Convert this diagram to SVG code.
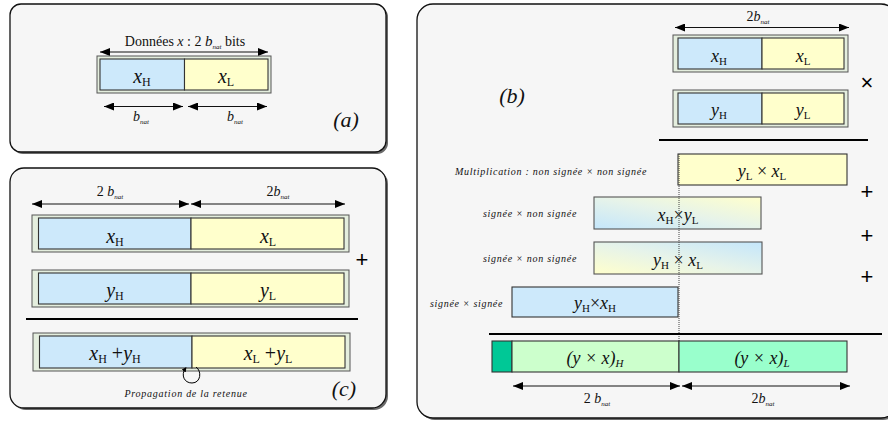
<svg xmlns="http://www.w3.org/2000/svg" width="888" height="421" viewBox="0 0 888 421" font-family="'Liberation Serif', serif">
  <style>
    .panel { fill: #f6f6f6; stroke: #111; stroke-width: 1.3; }
    .shadow { fill: #6a6a6a; }
    .frame { fill: #e4eede; stroke: #555; stroke-width: 1; }
    .hi { fill: #cde9fb; stroke: #333; stroke-width: 1.1; }
    .lo { fill: #ffffcc; stroke: #333; stroke-width: 1.1; }
    .arrow { stroke: #111; stroke-width: 1; fill: none; marker-start: url(#head); marker-end: url(#head); }
    .rule { stroke: #000; stroke-width: 2.2; }
    text { font-family: "Liberation Serif", serif; fill: #111; }
    .var { font-size: 20px; text-anchor: middle; }
    .small-var { font-size: 18px; text-anchor: middle; }
    .it { font-style: italic; }
    .note { font-size: 10px; font-style: italic; letter-spacing: 0.6px; }
    .tag { font-size: 22px; font-style: italic; text-anchor: middle; }
    .dim { font-size: 14px; text-anchor: middle; }
    text.op { font-family: "Liberation Sans", sans-serif; font-size: 22px; text-anchor: middle; fill: #000; }
  </style>
  <defs>
    <marker id="head" viewBox="0 0 10 8" refX="10" refY="4" markerWidth="10" markerHeight="8" markerUnits="userSpaceOnUse" orient="auto-start-reverse">
      <path d="M0,0 L10,4 L0,8 Z" fill="#000"/>
    </marker>
    <marker id="curl" viewBox="0 0 6 6" refX="3" refY="3" markerWidth="5" markerHeight="5" markerUnits="userSpaceOnUse" orient="auto">
      <path d="M0,0 L6,3 L0,6 Z" fill="#000"/>
    </marker>
    <linearGradient id="blueToYellow" x1="0" y1="1" x2="1" y2="0">
      <stop offset="0" stop-color="#c4e6fb"/>
      <stop offset="0.5" stop-color="#e6f3ea"/>
      <stop offset="1" stop-color="#ffffcc"/>
    </linearGradient>
    <linearGradient id="yellowToBlue" x1="0" y1="1" x2="1" y2="0">
      <stop offset="0" stop-color="#ffffcc"/>
      <stop offset="0.5" stop-color="#e6f3ea"/>
      <stop offset="1" stop-color="#c4e6fb"/>
    </linearGradient>
  </defs>

  <!-- Panel (a): split of a 2*b_nat word -->
  <g id="panel-a">
    <rect class="shadow" x="12" y="6" width="376" height="148" rx="11"/>
    <rect class="panel" x="10" y="4" width="376" height="148" rx="11"/>
    <text x="185" y="46" font-size="14" text-anchor="middle">Données <tspan class="it">x</tspan> : 2 <tspan class="it" font-size="15">b</tspan><tspan class="it" font-size="7" dy="3">nat</tspan><tspan dy="-3"> bits</tspan></text>
    <line class="arrow" x1="100" y1="52" x2="268" y2="52"/>
    <rect class="frame" x="97" y="56" width="174" height="37"/>
    <rect class="hi" x="100" y="59" width="84.5" height="31"/>
    <rect class="lo" x="184.5" y="59" width="83.5" height="31"/>
    <text class="var" x="142" y="83"><tspan class="it">x</tspan><tspan font-size="12" dy="3">H</tspan></text>
    <text class="var" x="226" y="83"><tspan class="it">x</tspan><tspan font-size="12" dy="3">L</tspan></text>
    <line class="arrow" x1="104" y1="106.5" x2="183" y2="106.5"/>
    <line class="arrow" x1="188" y1="106.5" x2="267" y2="106.5"/>
    <text class="dim" x="141" y="121" font-size="15"><tspan class="it">b</tspan><tspan class="it" font-size="7" dy="3">nat</tspan></text>
    <text class="dim" x="235" y="121" font-size="15"><tspan class="it">b</tspan><tspan class="it" font-size="7" dy="3">nat</tspan></text>
    <text class="tag" x="346" y="127">(a)</text>
  </g>

  <!-- Panel (c): addition with carry propagation -->
  <g id="panel-c">
    <rect class="shadow" x="12" y="170" width="376" height="240" rx="14"/>
    <rect class="panel" x="10" y="168" width="376" height="240" rx="14"/>
    <text class="dim" x="110" y="196">2 <tspan class="it">b</tspan><tspan class="it" font-size="7" dy="3">nat</tspan></text>
    <text class="dim" x="278" y="196">2<tspan class="it">b</tspan><tspan class="it" font-size="7" dy="3">nat</tspan></text>
    <line class="arrow" x1="32" y1="204" x2="189" y2="204"/>
    <line class="arrow" x1="191" y1="204" x2="345" y2="204"/>

    <g id="c-row-x">
      <rect class="frame" x="32" y="215" width="317" height="37"/>
      <rect class="hi" x="38.5" y="218" width="152.5" height="31"/>
      <rect class="lo" x="191" y="218" width="153" height="31"/>
      <text class="var" x="115" y="243"><tspan class="it">x</tspan><tspan font-size="12" dy="3">H</tspan></text>
      <text class="var" x="268" y="243"><tspan class="it">x</tspan><tspan font-size="12" dy="3">L</tspan></text>
    </g>
    <text class="op" x="362" y="267">+</text>
    <g id="c-row-y">
      <rect class="frame" x="32" y="270" width="317" height="37"/>
      <rect class="hi" x="38.5" y="273" width="152.5" height="31"/>
      <rect class="lo" x="191" y="273" width="153" height="31"/>
      <text class="var" x="115" y="297"><tspan class="it">y</tspan><tspan font-size="12" dy="3">H</tspan></text>
      <text class="var" x="268" y="297"><tspan class="it">y</tspan><tspan font-size="12" dy="3">L</tspan></text>
    </g>
    <line class="rule" x1="26" y1="319" x2="358" y2="319"/>
    <g id="c-row-sum">
      <rect class="frame" x="33" y="333" width="317" height="38"/>
      <rect class="hi" x="39.5" y="336" width="152.5" height="32"/>
      <rect class="lo" x="192" y="336" width="153" height="32"/>
      <text class="var" x="115" y="360"><tspan class="it">x</tspan><tspan font-size="12" dy="3">H</tspan><tspan dy="-3"> +</tspan><tspan class="it">y</tspan><tspan font-size="12" dy="3">H</tspan></text>
      <text class="var" x="268" y="360"><tspan class="it">x</tspan><tspan font-size="12" dy="3">L</tspan><tspan dy="-3"> +</tspan><tspan class="it">y</tspan><tspan font-size="12" dy="3">L</tspan></text>
    </g>
    <path d="M196,367 C202,371 201,383 192,383 C184,383 181,375 185,369" fill="none" stroke="#000" stroke-width="1" marker-end="url(#curl)"/>
    <text class="note" x="186" y="397" text-anchor="middle" textLength="123">Propagation de la retenue</text>
    <text class="tag" x="344" y="396">(c)</text>
  </g>

  <!-- Panel (b): decomposed multiplication -->
  <g id="panel-b">
    <rect class="shadow" x="419" y="6" width="480" height="414" rx="16"/>
    <rect class="panel" x="417" y="4" width="480" height="414" rx="16"/>
    <text class="tag" x="512" y="103">(b)</text>
    <text class="dim" x="758" y="21" font-size="13">2<tspan class="it">b</tspan><tspan class="it" font-size="7" dy="3">nat</tspan></text>
    <line class="arrow" x1="675" y1="27.5" x2="849" y2="27.5"/>

    <g id="b-row-x">
      <rect class="frame" x="673" y="35" width="175" height="37"/>
      <rect class="hi" x="678" y="38" width="84" height="31"/>
      <rect class="lo" x="762" y="38" width="82" height="31"/>
      <text class="small-var" x="719" y="62"><tspan class="it">x</tspan><tspan font-size="11" dy="3">H</tspan></text>
      <text class="small-var" x="803" y="62"><tspan class="it">x</tspan><tspan font-size="11" dy="3">L</tspan></text>
    </g>
    <text class="op" x="867" y="90">×</text>
    <g id="b-row-y">
      <rect class="frame" x="673" y="90" width="175" height="37"/>
      <rect class="hi" x="678" y="93" width="84" height="31"/>
      <rect class="lo" x="762" y="93" width="82" height="31"/>
      <text class="small-var" x="719" y="116"><tspan class="it">y</tspan><tspan font-size="11" dy="3">H</tspan></text>
      <text class="small-var" x="803" y="116"><tspan class="it">y</tspan><tspan font-size="11" dy="3">L</tspan></text>
    </g>
    <line class="rule" x1="659" y1="140" x2="868" y2="140" stroke-width="3"/>

    <!-- partial products -->
    <g id="pp-ll">
      <text class="note" x="647" y="175" text-anchor="end" textLength="192">Multiplication : non signée × non signée</text>
      <rect class="lo" x="678" y="154" width="169" height="31"/>
      <text class="small-var" x="762" y="177"><tspan class="it">y</tspan><tspan font-size="11" dy="3">L</tspan><tspan dy="-3"> × </tspan><tspan class="it">x</tspan><tspan font-size="11" dy="3">L</tspan></text>
    </g>
    <text class="op" x="867" y="199">+</text>
    <g id="pp-hl">
      <text class="note" x="577" y="217" text-anchor="end" textLength="94">signée × non signée</text>
      <rect x="594" y="197" width="167" height="32" fill="url(#blueToYellow)" stroke="#555" stroke-width="1.1"/>
      <text class="small-var" x="678" y="221"><tspan class="it">x</tspan><tspan font-size="11" dy="3">H</tspan><tspan dy="-3">×</tspan><tspan class="it">y</tspan><tspan font-size="11" dy="3">L</tspan></text>
    </g>
    <text class="op" x="867" y="243">+</text>
    <g id="pp-lh">
      <text class="note" x="577" y="262" text-anchor="end" textLength="94">signée × non signée</text>
      <rect x="594" y="242" width="168" height="32" fill="url(#yellowToBlue)" stroke="#555" stroke-width="1.1"/>
      <text class="small-var" x="678" y="266"><tspan class="it">y</tspan><tspan font-size="11" dy="3">H</tspan><tspan dy="-3"> × </tspan><tspan class="it">x</tspan><tspan font-size="11" dy="3">L</tspan></text>
    </g>
    <text class="op" x="867" y="284">+</text>
    <g id="pp-hh">
      <text class="note" x="503" y="307" text-anchor="end" textLength="73">signée × signée</text>
      <rect class="hi" x="512" y="287" width="166" height="30"/>
      <text class="small-var" x="595" y="309"><tspan class="it">y</tspan><tspan font-size="11" dy="3">H</tspan><tspan dy="-3">×</tspan><tspan class="it">x</tspan><tspan font-size="11" dy="3">H</tspan></text>
    </g>
    <line x1="679" y1="154" x2="679" y2="341" stroke="#444" stroke-width="1" stroke-dasharray="1,1"/>
    <line class="rule" x1="489" y1="334" x2="882" y2="334"/>

    <g id="product">
      <rect x="492" y="341" width="20" height="31" fill="#00c896" stroke="#333" stroke-width="1.1"/>
      <rect x="512" y="341" width="167" height="31" fill="#ccffcc" stroke="#333" stroke-width="1.1"/>
      <rect x="679" y="341" width="168" height="31" fill="#99ffcc" stroke="#333" stroke-width="1.1"/>
      <text class="small-var it" x="595" y="364">(y × x)<tspan font-size="11" dy="3">H</tspan></text>
      <text class="small-var it" x="762" y="364">(y × x)<tspan font-size="11" dy="3">L</tspan></text>
    </g>
    <line class="arrow" x1="513" y1="386" x2="680" y2="386"/>
    <line class="arrow" x1="682" y1="386" x2="850" y2="386"/>
    <text class="dim" x="597" y="403" font-size="13">2 <tspan class="it">b</tspan><tspan class="it" font-size="7" dy="3">nat</tspan></text>
    <text class="dim" x="763" y="403" font-size="13">2<tspan class="it">b</tspan><tspan class="it" font-size="7" dy="3">nat</tspan></text>
  </g>
</svg>
